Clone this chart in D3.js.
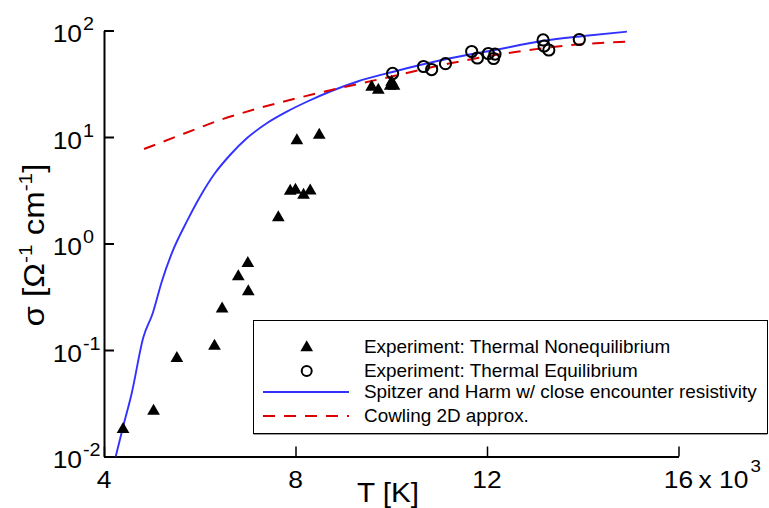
<!DOCTYPE html>
<html>
<head>
<meta charset="utf-8">
<script src="https://cdn.jsdelivr.net/npm/d3@7"></script>
<style>
html,body{margin:0;padding:0;background:#fff;}
svg{display:block;}
text{font-family:"Liberation Sans",Arial,Helvetica,sans-serif;fill:#000;}
</style>
</head>
<body>
<svg id="chart" width="769" height="508"></svg>
<script>
// ---- data (T in units of 10^3 K, sigma in 1/(Ohm cm)) ----
const nonEqT = [4.398, 5.035, 5.522, 6.308, 6.467, 6.805, 7.004, 7.014, 7.641, 7.890, 7.999, 8.168, 8.307, 8.029, 8.496, 9.591, 9.730, 9.979, 10.058, 10.008];
const nonEqS = [0.018, 0.0267, 0.0836, 0.109, 0.243, 0.488, 0.652, 0.353, 1.75, 3.11, 3.18, 2.85, 3.13, 9.27, 10.4, 29.5, 27.6, 30.1, 30.1, 32.8];

const eqT = [10.028, 10.675, 10.844, 11.133, 11.680, 11.799, 12.028, 12.167, 12.137, 13.172, 13.192, 13.291, 13.928];
const eqS = [39.5, 45.9, 43.0, 48.8, 63.5, 55.2, 60.8, 60.1, 54.6, 81.5, 71.5, 65.6, 82.3];

const spitzerT = [4.245, 4.391, 4.579, 4.822, 5.018, 5.206, 5.415, 5.728, 6.006, 6.316, 6.633, 6.982, 7.400, 7.818, 8.236, 9.281, 10.046, 11.231, 12.171, 13.181, 14.016, 14.923];
const spitzerLog = [-2.0, -1.735, -1.406, -0.881, -0.655, -0.359, -0.092, 0.205, 0.439, 0.659, 0.831, 0.988, 1.129, 1.238, 1.331, 1.519, 1.613, 1.739, 1.817, 1.904, 1.948, 1.989];

const cowlingT = [4.836, 5.691, 6.427, 7.223, 8.447, 9.839, 11.232, 12.625, 14.017, 14.923];
const cowlingLog = [0.887, 1.035, 1.160, 1.269, 1.410, 1.551, 1.692, 1.801, 1.873, 1.895];

const xMajor = [4, 8, 12, 16];
const xMinor = [5, 6, 7, 9, 10, 11, 13, 14, 15];
const yMajor = [0.01, 0.1, 1, 10, 100];
const yExp = ["-2", "-1", "0", "1", "2"];

const legendLabels = [
  "Experiment: Thermal Nonequilibrium",
  "Experiment: Thermal Equilibrium",
  "Spitzer and Harm w/ close encounter resistivity",
  "Cowling 2D approx."
];

// ---- layout ----
const svg = d3.select("#chart");
const x = d3.scaleLinear().domain([4, 16]).range([104, 678.5]);
const y = d3.scaleLog().domain([0.01, 100]).range([456.5, 30.5]);
const blue = "#3232ff", red = "#dd0000";
const SX = 1.1; // horizontal stretch of text

function stretchedText(parent, px, py, sx) {
  return parent.append("g").attr("transform", `translate(${px},${py}) scale(${sx},1)`).append("text");
}

// axes
const gx = svg.append("g").attr("transform", `translate(0,${y.range()[0]})`);
gx.call(d3.axisBottom(x).tickValues(xMinor).tickSize(-6).tickSizeOuter(0).tickFormat(""));
gx.call(d3.axisBottom(x).tickValues(xMajor).tickSize(-10).tickSizeOuter(0).tickFormat(""));
gx.selectAll("path.domain").attr("stroke", "#000").attr("stroke-width", 2);
gx.selectAll(".tick line").attr("stroke", "#000").attr("stroke-width", 1.5);

const gy = svg.append("g").attr("transform", `translate(${x.range()[0]},0)`);
const yMinor = y.ticks().filter(v => !yMajor.some(m => Math.abs(m - v) / m < 1e-6));
gy.call(d3.axisLeft(y).tickValues(yMinor).tickSize(-6).tickSizeOuter(0).tickFormat(""));
gy.selectAll(".tick line").attr("stroke", "#444").attr("stroke-width", 1.2);
gy.call(d3.axisLeft(y).tickValues(yMajor).tickSize(-10).tickSizeOuter(0).tickFormat(""));
gy.selectAll(".tick line").filter(d => yMajor.includes(d)).attr("stroke", "#000").attr("stroke-width", 2);
gy.selectAll("path.domain").attr("stroke", "#000").attr("stroke-width", 2);

// y tick labels
yMajor.forEach((v, i) => {
  const py = y(v);
  stretchedText(svg, 82, py + 11.5, SX).attr("text-anchor", "end").style("font-size", "24px").text("10");
  stretchedText(svg, 83, py - 0.5, SX).attr("text-anchor", "start").style("font-size", "18px").text(yExp[i]);
});

// x tick labels
xMajor.forEach(v => {
  stretchedText(svg, x(v), 488, SX).attr("text-anchor", "middle").style("font-size", "24px").text(v);
});
stretchedText(svg, x(16) + 20, 488, SX).attr("text-anchor", "start").style("font-size", "24px").text("x 10");
stretchedText(svg, x(16) + 72, 472, SX).attr("text-anchor", "start").style("font-size", "17px").text("3");

// axis titles
stretchedText(svg, 388, 502, SX).attr("text-anchor", "middle").style("font-size", "27px").text("T [K]");
const yt = svg.append("g").attr("transform", "translate(44,245) rotate(-90) scale(1.1,1)").append("text")
  .attr("text-anchor", "middle").style("font-size", "30px");
yt.append("tspan").text("σ [Ω");
yt.append("tspan").attr("dy", -12).style("font-size", "19px").text("-1");
yt.append("tspan").attr("dy", 12).text(" cm");
yt.append("tspan").attr("dy", -12).style("font-size", "19px").text("-1");
yt.append("tspan").attr("dy", 12).text("]");

// curves
const line = d3.line().x(d => x(d[0])).y(d => y(Math.pow(10, d[1]))).curve(d3.curveMonotoneX);
svg.append("path").datum(spitzerT.map((t, i) => [t, spitzerLog[i]]))
  .attr("d", line).attr("fill", "none").attr("stroke", blue).attr("stroke-width", 1.9);
svg.append("path").datum(cowlingT.map((t, i) => [t, cowlingLog[i]]))
  .attr("d", line).attr("fill", "none").attr("stroke", red).attr("stroke-width", 2).attr("stroke-dasharray", "12,9");

// markers
const tri = d3.symbol().type(d3.symbolTriangle).size(70);
svg.append("g").selectAll("path").data(nonEqT.map((t, i) => [t, nonEqS[i]])).join("path")
  .attr("d", tri).attr("transform", d => `translate(${x(d[0])},${y(d[1])})`).attr("fill", "#000");
svg.append("g").selectAll("circle").data(eqT.map((t, i) => [t, eqS[i]])).join("circle")
  .attr("cx", d => x(d[0])).attr("cy", d => y(d[1])).attr("r", 5.6)
  .attr("fill", "none").attr("stroke", "#000").attr("stroke-width", 2);

// legend
const lg = svg.append("g");
lg.append("rect").attr("x", 253.5).attr("y", 320.5).attr("width", 514).attr("height", 113)
  .attr("fill", "#fff").attr("stroke", "#000").attr("stroke-width", 1);
lg.append("line").attr("x1", 253.5).attr("x2", 767.5).attr("y1", 434.5).attr("y2", 434.5).attr("stroke", "#999").attr("stroke-width", 1);
const rows = [346.7, 371, 392, 416];
lg.append("path").attr("d", tri).attr("transform", `translate(306.7,${rows[0] + 1})`).attr("fill", "#000");
lg.append("circle").attr("cx", 306.7).attr("cy", rows[1]).attr("r", 5).attr("fill", "none").attr("stroke", "#000").attr("stroke-width", 2);
lg.append("line").attr("x1", 263).attr("x2", 349).attr("y1", rows[2]).attr("y2", rows[2]).attr("stroke", blue).attr("stroke-width", 1.9);
lg.append("line").attr("x1", 263).attr("x2", 349).attr("y1", rows[3]).attr("y2", rows[3]).attr("stroke", red).attr("stroke-width", 2).attr("stroke-dasharray", "12,9");
legendLabels.forEach((s, i) => {
  stretchedText(lg, 364, rows[i] + 6, 1.08).style("font-size", "17.5px").text(s);
});
</script>
</body>
</html>
